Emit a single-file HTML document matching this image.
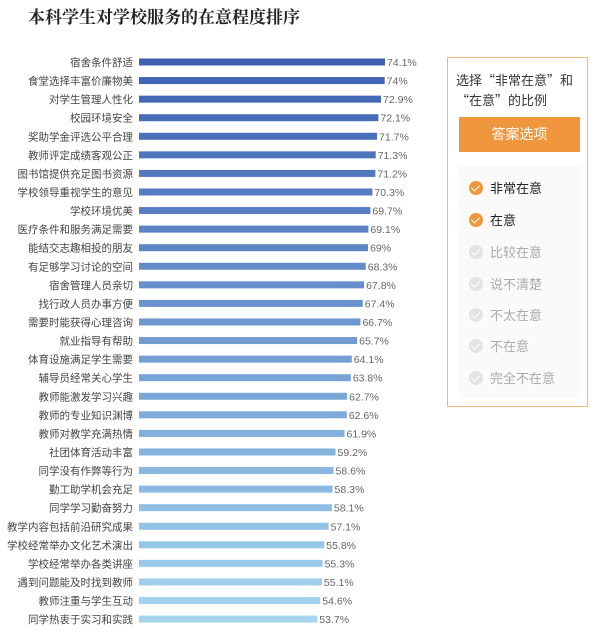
<!DOCTYPE html>
<html><head><meta charset="utf-8"><style>
body{margin:0;width:600px;height:636px;background:#fff;overflow:hidden;font-family:"Liberation Sans","Noto Sans CJK SC",sans-serif;position:relative}
.title{position:absolute;left:28px;top:3px;font-family:"Liberation Serif","Noto Serif CJK SC",serif;font-weight:bold;font-size:17px;color:#222}
.panel{position:absolute;left:447px;top:57px;width:141px;height:350px;border:1.5px solid #f1b877;box-sizing:border-box}
.ptitle{position:absolute;left:8px;top:12px;font-family:"Noto Sans CJK SC",sans-serif;font-size:13px;color:#333;line-height:20px;width:135px;white-space:nowrap}
.btn{position:absolute;left:11px;top:59px;width:121px;height:35px;background:#f0963c;color:#fff;font-size:14px;text-align:center;line-height:35px}
.list{position:absolute;left:11px;top:108px;width:121px;height:232px;background:#fbfaf9}
.item{position:absolute;left:10px;font-size:13px;color:#aaa;height:20px;line-height:20px}
.item .c{display:inline-block;width:14px;height:14px;border-radius:50%;background:#e4e4e4;vertical-align:-2px;margin-right:7px;position:relative}
.item .c:after{content:"";position:absolute;left:4px;top:2px;width:4px;height:7px;border:solid #fff;border-width:0 1.5px 1.5px 0;transform:rotate(45deg)}
.item.on{color:#222}.item.on .c{background:#f0963c}
</style></head><body>
<div class="title">本科学生对学校服务的在意程度排序</div>
<svg id="chart" width="440" height="636" style="position:absolute;left:0;top:0"></svg>
<div class="panel">
<div class="ptitle">选择“非常在意”和<br>“在意”的比例</div>
<div class="btn">答案选项</div>
<div class="list">
<div class="item on" style="top:13px"><span class="c"></span>非常在意</div>
<div class="item on" style="top:45px"><span class="c"></span>在意</div>
<div class="item" style="top:77px"><span class="c"></span>比较在意</div>
<div class="item" style="top:109px"><span class="c"></span>说不清楚</div>
<div class="item" style="top:140px"><span class="c"></span>不太在意</div>
<div class="item" style="top:171px"><span class="c"></span>不在意</div>
<div class="item" style="top:203px"><span class="c"></span>完全不在意</div>
</div></div>
<script>
const categories=["宿舍条件舒适","食堂选择丰富价廉物美","对学生管理人性化","校园环境安全","奖助学金评选公平合理","教师评定成绩客观公正","图书馆提供充足图书资源","学校领导重视学生的意见","学校环境优美","医疗条件和服务满足需要","能结交志趣相投的朋友","有足够学习讨论的空间","宿舍管理人员亲切","找行政人员办事方便","需要时能获得心理咨询","就业指导有帮助","体育设施满足学生需要","辅导员经常关心学生","教师能激发学习兴趣","教师的专业知识渊博","教师对教学充满热情","社团体育活动丰富","同学没有作弊等行为","勤工助学机会充足","同学学习勤奋努力","教学内容包括前沿研究成果","学校经常举办文化艺术演出","学校经常举办各类讲座","遇到问题能及时找到教师","教师注重与学生互动","同学热衷于实习和实践"];
const values=[74.1,74,72.9,72.1,71.7,71.3,71.2,70.3,69.7,69.1,69,68.3,67.8,67.4,66.7,65.7,64.1,63.8,62.7,62.6,61.9,59.2,58.6,58.3,58.1,57.1,55.8,55.3,55.1,54.6,53.7];
const valueLabels=["74.1%","74%","72.9%","72.1%","71.7%","71.3%","71.2%","70.3%","69.7%","69.1%","69%","68.3%","67.8%","67.4%","66.7%","65.7%","64.1%","63.8%","62.7%","62.6%","61.9%","59.2%","58.6%","58.3%","58.1%","57.1%","55.8%","55.3%","55.1%","54.6%","53.7%"];
const svg=document.getElementById('chart');const NS='http://www.w3.org/2000/svg';
const x0=139,k=3.32;const xScale=v=>v*k;
const yScale=i=>62+i*18.57;
function col(i){const t=i/(categories.length-1);const a=[61,96,178],b=[164,214,240];return 'rgb('+a.map((c,j)=>Math.round(c+(b[j]-c)*t)).join(',')+')';}
categories.forEach((c,i)=>{const y=yScale(i);
const t=document.createElementNS(NS,'text');t.setAttribute('x',133);t.setAttribute('y',y+4);t.setAttribute('text-anchor','end');t.setAttribute('font-size','10.5');t.setAttribute('fill','#444');t.textContent=c;

svg.appendChild(t);
const r=document.createElementNS(NS,'rect');r.setAttribute('x',x0);r.setAttribute('y',y-3.5);r.setAttribute('height',7);r.setAttribute('width',xScale(values[i]));r.setAttribute('fill',col(i));

svg.appendChild(r);
const l=document.createElementNS(NS,'text');l.setAttribute('x',x0+xScale(values[i])+2);l.setAttribute('y',y+4);l.setAttribute('font-size','10.5');l.setAttribute('fill','#666');l.textContent=valueLabels[i];

svg.appendChild(l);});
</script>
</body></html>
